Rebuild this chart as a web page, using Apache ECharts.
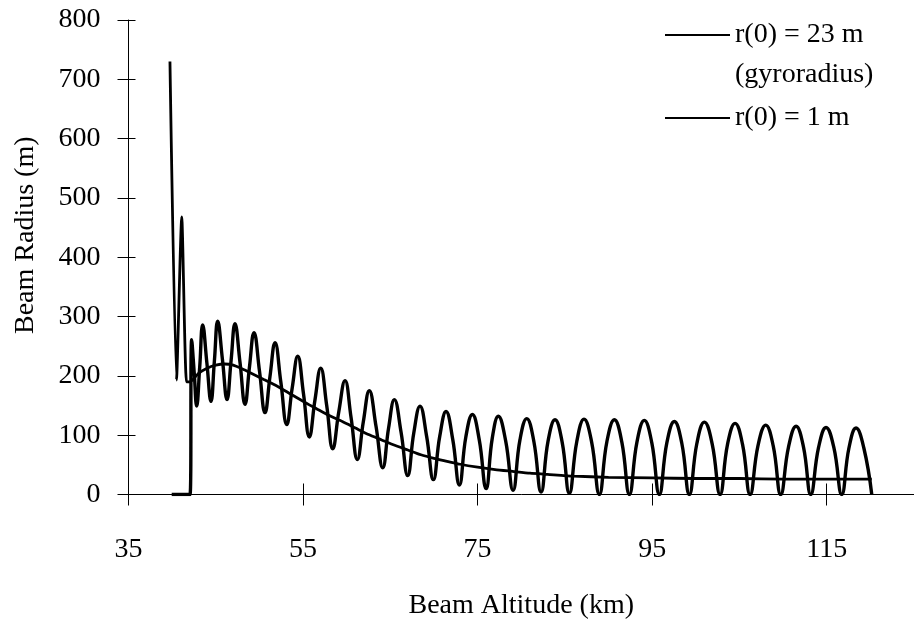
<!DOCTYPE html>
<html>
<head>
<meta charset="utf-8">
<script src="https://cdn.jsdelivr.net/npm/echarts@6/dist/echarts.min.js"></script>
<style>html,body{margin:0;padding:0;background:#fff}#c{width:914px;height:634px}</style>
</head>
<body>
<div id="c"></div>
<script>
// ---- data ----
const name23 = 'r(0) = 23 m';
const name1 = 'r(0) = 1 m';
const xTicks = [35, 55, 75, 95, 115];
const yTicks = [0, 100, 200, 300, 400, 500, 600, 700, 800];

// r(0) = 23 m (smooth envelope with initial spikes)
const alt23 = [39.75, 40.5, 41.1, 41.65, 42.05, 43.0, 44.0, 45.0, 46.0, 47.0, 48.0, 49.0, 50.5, 52.0, 53.5, 55.0, 56.5, 58.0, 59.5, 61.0, 62.5, 64.0, 65.5, 67.0, 68.5, 70.0, 71.5, 73.0, 75.0, 77.0, 79.0, 81.0, 83.0, 86.0, 90.0, 95.0, 100.0, 105.0, 110.0, 115.0, 120.16];
const rad23 = [730, 193, 468, 190, 190, 204, 213, 218, 220, 218, 212, 205, 194, 183, 170, 157, 145, 133, 123, 112, 101, 92, 83, 75, 67, 61, 56, 51, 46, 42, 39, 36, 34, 31, 29, 28, 27, 27, 26, 26, 26];

// r(0) = 1 m (oscillating)
const alt1 = [39.95, 42.05, 42.24, 42.53, 42.81, 43.16, 43.50, 43.98, 44.45, 44.84, 45.22, 45.76, 46.29, 46.75, 47.20, 47.78, 48.35, 48.86, 49.38, 50.01, 50.64, 51.21, 51.79, 52.45, 53.13, 53.76, 54.39, 55.05, 55.72, 56.37, 57.02, 57.71, 58.40, 59.10, 59.81, 60.50, 61.22, 61.91, 62.59, 63.36, 64.13, 64.80, 65.46, 66.23, 66.99, 67.69, 68.40, 69.16, 69.93, 70.66, 71.38, 72.15, 72.91, 73.65, 74.40, 75.19, 75.97, 76.68, 77.37, 78.22, 79.06, 79.85, 80.63, 81.45, 82.27, 83.07, 83.87, 84.69, 85.51, 86.36, 87.19, 88.07, 88.95, 89.81, 90.67, 91.53, 92.39, 93.25, 94.10, 94.96, 95.82, 96.68, 97.54, 98.40, 99.26, 100.12, 100.98, 101.88, 102.78, 103.64, 104.50, 105.36, 106.22, 107.12, 108.01, 108.87, 109.73, 110.62, 111.49, 112.34, 113.17, 114.06, 114.92, 115.82, 116.72, 117.54, 118.36, 119.26, 120.16];
const rad1 = [0, 0, 261, 205, 149, 215, 286, 222, 157, 225, 292, 228, 160, 225, 288, 222, 152, 215, 273, 208, 138, 199, 256, 190, 118, 180, 233, 170, 97, 160, 213, 150, 77, 140, 192, 130, 59, 123, 175, 115, 45, 112, 160, 105, 32, 104, 149, 98, 25, 98, 140, 93, 16, 97, 135, 92, 10, 95, 132, 90, 7, 92, 128, 89, 4, 90, 126, 88, 2, 89, 127, 88, 0, 89, 126, 88, 0, 88, 125, 87, 0, 87, 123, 86, 0, 86, 122, 85, 0, 85, 120, 84, 0, 82, 117, 82, 0, 80, 115, 80, 0, 79, 113, 79, 0, 78, 112, 78, 0];

const zip = (xs, ys) => xs.map((x, i) => [x, ys[i]]);

const FONT = 'Liberation Serif';
const FS = 28;
const txt = { fontFamily: FONT, fontSize: FS, color: '#000' };

const chart = echarts.init(document.getElementById('c'), null, { renderer: 'canvas' });
chart.setOption({
  animation: false,
  backgroundColor: '#fff',
  grid: { left: 128.5, right: 0, top: 20, bottom: 139.5, containLabel: false },
  legend: [{
    data: [name23],
    left: 665, top: -25, padding: 0,
    icon: 'rect', itemWidth: 65, itemHeight: 2,
    formatter: n => '\n' + n + '\n(gyroradius)',
    textStyle: Object.assign({}, txt, { lineHeight: 40 })
  }, {
    data: [name1],
    left: 665, top: 104, padding: 0,
    icon: 'rect', itemWidth: 65, itemHeight: 2,
    textStyle: Object.assign({}, txt)
  }],
  xAxis: [{
    type: 'value', min: 35, max: 125, position: 'bottom',
    name: 'Beam Altitude (km)', nameLocation: 'middle', nameGap: 97,
    nameTextStyle: txt,
    axisLine: { onZero: false, lineStyle: { color: '#000', width: 1 } },
    axisTick: { show: true, inside: false, length: 11, customValues: xTicks, lineStyle: { color: '#000' } },
    axisLabel: Object.assign({ margin: 41, customValues: xTicks }, txt),
    splitLine: { show: false }
  }, {
    type: 'value', min: 35, max: 125, position: 'bottom',
    axisLine: { show: false, onZero: false },
    axisTick: { show: true, inside: true, length: 11, customValues: xTicks, lineStyle: { color: '#000' } },
    axisLabel: { show: false },
    splitLine: { show: false }
  }],
  yAxis: [{
    type: 'value', min: 0, max: 800, interval: 100, position: 'left',
    name: 'Beam Radius (m)', nameLocation: 'middle', nameGap: 89,
    nameTextStyle: Object.assign({ padding: [0, 0, 0, 44] }, txt),
    axisLine: { onZero: false, lineStyle: { color: '#000', width: 1 } },
    axisTick: { show: true, inside: false, length: 11, customValues: yTicks, lineStyle: { color: '#000' } },
    axisLabel: Object.assign({ margin: 28, customValues: yTicks }, txt),
    splitLine: { show: false }
  }, {
    type: 'value', min: 0, max: 800, interval: 100, position: 'left',
    axisLine: { show: false, onZero: false },
    axisTick: { show: true, inside: true, length: 7, customValues: yTicks, lineStyle: { color: '#000' } },
    axisLabel: { show: false },
    splitLine: { show: false }
  }],
  series: [{
    name: name23, type: 'line', xAxisIndex: 0, yAxisIndex: 0,
    data: zip(alt23, rad23), showSymbol: false, symbol: 'none', smooth: 0.2,
    color: '#000', itemStyle: { color: '#000' },
    lineStyle: { color: '#000', width: 2.8 }
  }, {
    name: name1, type: 'line', xAxisIndex: 0, yAxisIndex: 0,
    data: zip(alt1, rad1), showSymbol: false, symbol: 'none', smooth: 0.45,
    color: '#000', itemStyle: { color: '#000' },
    lineStyle: { color: '#000', width: 3.4 }
  }]
});
</script>
</body>
</html>
